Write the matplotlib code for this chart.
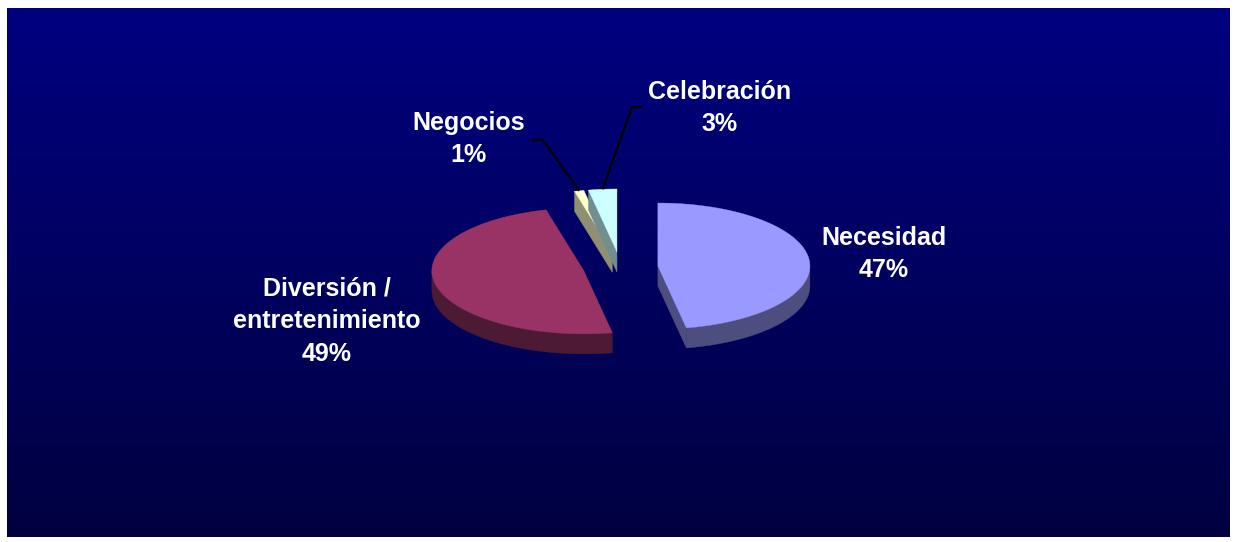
import numpy as np
import matplotlib
matplotlib.use("Agg")
import matplotlib.pyplot as plt
from matplotlib.patches import Polygon
from matplotlib.colors import to_rgb

# ---- data ----
categories = ["Necesidad", "Diversión /\nentretenimiento", "Negocios", "Celebración"]
values = [47, 49, 1, 3]
colors = ["#9999FF", "#993366", "#FFFFCC", "#CCFFFF"]
side_shade = [0.50, 0.50, 0.56, 0.56]

W, H = 1237, 542
fig = plt.figure(figsize=(W / 100, H / 100), dpi=100)
fig.patch.set_facecolor("white")
ax = fig.add_axes([0, 0, 1, 1])
ax.set_xlim(0, W)
ax.set_ylim(H, 0)
ax.axis("off")

# background gradient panel
bx0, bx1, by0, by1 = 7, 1230, 8, 537
grad = np.linspace(0, 1, 256)[:, None]
top = np.array([0, 0, 128]) / 255
bot = np.array([0, 0, 64]) / 255
img = top[None, None, :] * (1 - grad[..., None]) + bot[None, None, :] * grad[..., None]
ax.imshow(img, extent=[bx0, bx1, by1, by0], aspect="auto", zorder=0, interpolation="bilinear")

# pie geometry (screen pixels)
cx, cy = 620.5, 267.5
rx, ry = 152, 63
depth = 20
explode = 0.247

fr = np.array(values, dtype=float) / sum(values)
ends = np.cumsum(fr) * 360.0
starts = ends - fr * 360.0


def pt(th_deg, r, ox, oy, z=0.0):
    t = np.radians(th_deg)
    return (cx + ox + r * rx * np.sin(t), cy + oy - r * ry * np.cos(t) + z)


slices = []
for i in range(len(values)):
    a, b = starts[i], ends[i]
    mid = np.radians((a + b) / 2)
    ox = explode * rx * np.sin(mid)
    oy = -explode * ry * np.cos(mid)
    slices.append((i, a, b, ox, oy))

anchors = {}
# back to front
for i, a, b, ox, oy in sorted(slices, key=lambda s: s[4]):
    col = np.array(to_rgb(colors[i]))
    scol = col * side_shade[i]
    zb = 10 + i
    # cut faces
    for ang, psi in ((a, a - 90), (b, b + 90)):
        if np.cos(np.radians(psi)) < -1e-6:
            p0 = pt(ang, 0, ox, oy)
            p1 = pt(ang, 1, ox, oy)
            poly = [p0, p1, (p1[0], p1[1] + depth), (p0[0], p0[1] + depth)]
            ax.add_patch(Polygon(poly, closed=True, facecolor=scol, edgecolor=scol,
                                 lw=0.3, zorder=zb))
    # outer wall, visible range [90, 270]
    lo, hi = max(a, 90), min(b, 270)
    if hi > lo:
        th = np.linspace(lo, hi, 120)
        topr = [pt(t, 1, ox, oy) for t in th]
        botr = [pt(t, 1, ox, oy, depth) for t in th[::-1]]
        ax.add_patch(Polygon(topr + botr, closed=True, facecolor=scol, edgecolor=scol,
                             lw=0.3, zorder=zb))
    # top face
    th = np.linspace(a, b, 200)
    poly = [pt(0, 0, ox, oy)] + [pt(t, 1, ox, oy) for t in th]
    ax.add_patch(Polygon(poly, closed=True, facecolor=col, edgecolor=col, lw=0.3, zorder=zb + 0.5))
    anchors[i] = pt((a + b) / 2, 1, ox, oy)

# labels
font = dict(color="white", fontsize=18, fontweight="bold", family=["Liberation Sans", "DejaVu Sans"],
            ha="center", va="center", linespacing=1.47, zorder=30)
label_pos = {0: (884, 254), 1: (327, 321), 2: (469, 139), 3: (720, 108)}
for i, name in enumerate(categories):
    x, y = label_pos[i]
    ax.text(x, y, f"{name}\n{values[i]}%", **font)

# leader lines for small slices
leader_start = {2: [(532, 140), (543, 140)], 3: [(642, 107), (632, 107)]}
for i, pts in leader_start.items():
    xs = [p[0] for p in pts] + [anchors[i][0]]
    ys = [p[1] for p in pts] + [anchors[i][1]]
    ax.plot(xs, ys, color="black", lw=1.6, zorder=25, solid_capstyle="butt")

fig.savefig("out.png", dpi=100, facecolor="white")
